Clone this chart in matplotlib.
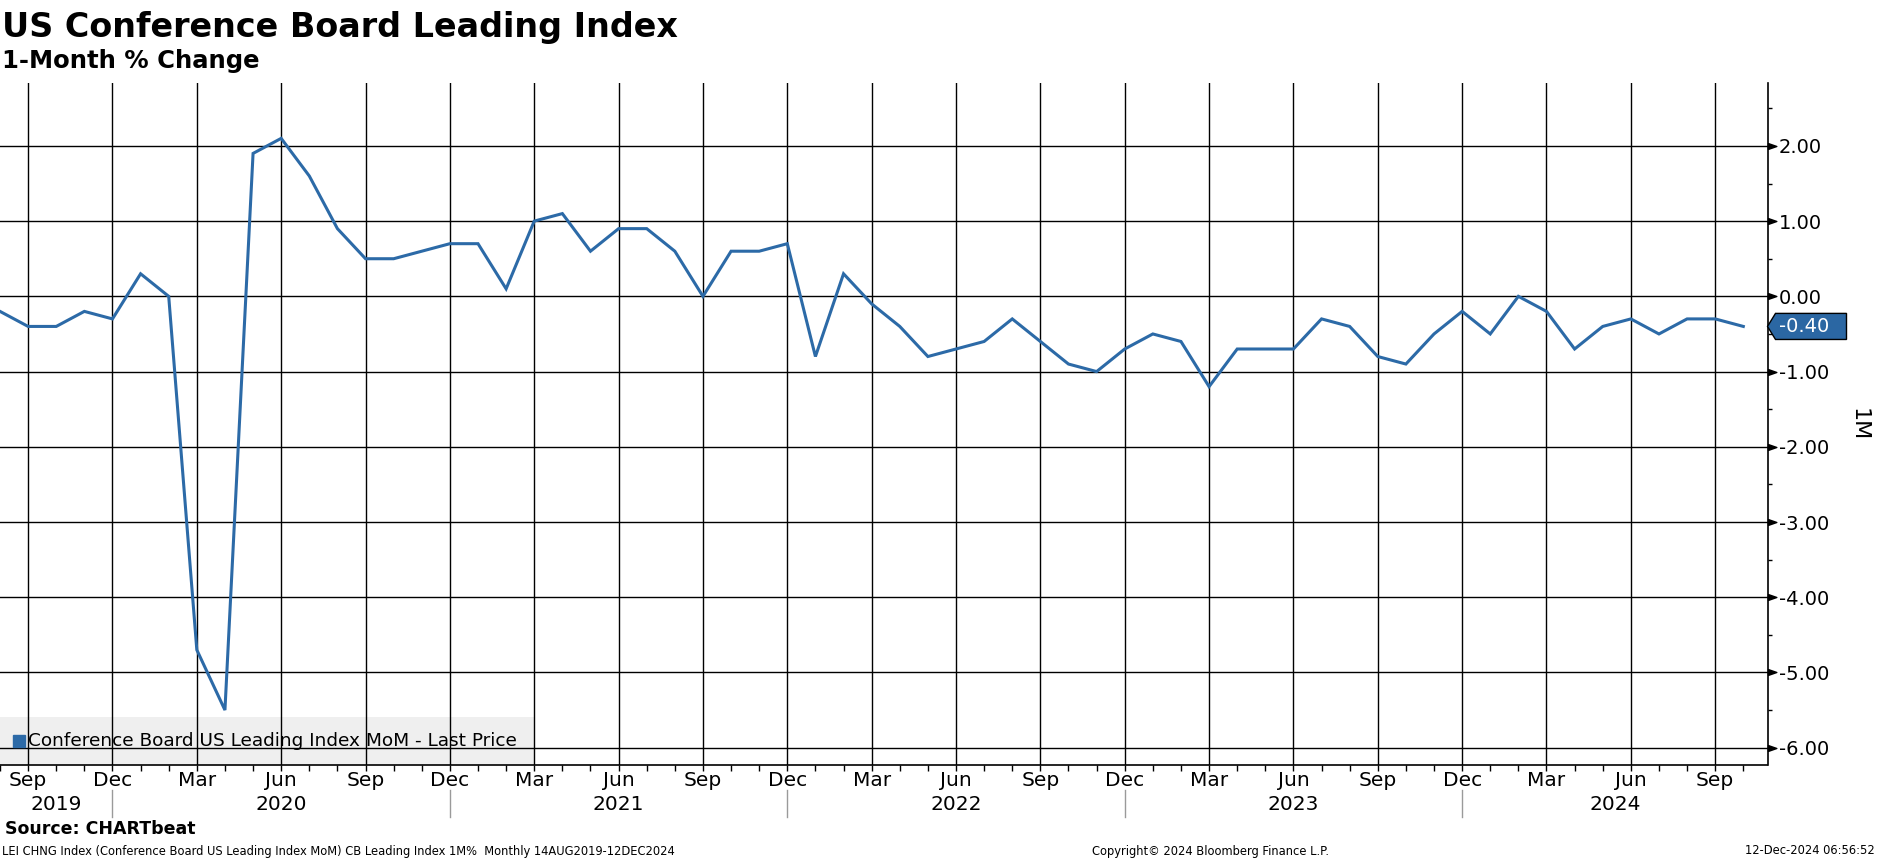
import matplotlib
matplotlib.use("Agg")
import matplotlib.pyplot as plt
import matplotlib.transforms as mtransforms
from matplotlib.patches import Polygon, Rectangle
from matplotlib.path import Path
from matplotlib.ticker import MultipleLocator, FixedLocator

# ---------------- data (monthly, Aug 2019 - Oct 2024) ----------------
values = [
    -0.2, -0.4, -0.4, -0.2, -0.3,                                         # 2019 Aug-Dec
    0.3, 0.0, -4.7, -5.5, 1.9, 2.1, 1.6, 0.9, 0.5, 0.5, 0.6, 0.7,         # 2020
    0.7, 0.1, 1.0, 1.1, 0.6, 0.9, 0.9, 0.6, 0.0, 0.6, 0.6, 0.7,           # 2021
    -0.8, 0.3, -0.1, -0.4, -0.8, -0.7, -0.6, -0.3, -0.6, -0.9, -1.0, -0.7,  # 2022
    -0.5, -0.6, -1.2, -0.7, -0.7, -0.7, -0.3, -0.4, -0.8, -0.9, -0.5, -0.2,  # 2023
    -0.5, 0.0, -0.2, -0.7, -0.4, -0.3, -0.5, -0.3, -0.3, -0.4,            # 2024 Jan-Oct
]
quarter_names = ["Sep", "Dec", "Mar", "Jun"]
year_labels = ["2019", "2020", "2021", "2022", "2023", "2024"]
y_ticks = [-6, -5, -4, -3, -2, -1, 0, 1, 2]
last_price = -0.40

title = "US Conference Board Leading Index"
subtitle = "1-Month % Change"
legend_label = "Conference Board US Leading Index MoM - Last Price"
source = "Source: CHARTbeat"
footer_left = "LEI CHNG Index (Conference Board US Leading Index MoM) CB Leading Index 1M%  Monthly 14AUG2019-12DEC2024"
footer_mid = "Copyright\u00a9 2024 Bloomberg Finance L.P."
footer_right = "12-Dec-2024 06:56:52"

line_color = "#2c6aa7"
x = list(range(len(values)))   # month index, 0 = Aug 2019

# ---------------- figure ----------------
W, H = 1877, 859
fig = plt.figure(figsize=(W / 100, H / 100), dpi=100)
plt.rcParams["font.family"] = ["DejaVu Sans"]
ax = fig.add_axes([0.0, 1 - 765 / H, 1767.5 / W, (765 - 82.7) / H])

xmax = 62.86
ax.set_xlim(0, xmax)
ax.set_ylim(-6.23, 2.84)

# grid
for q in range(1, len(values), 3):
    ax.axvline(q, color="black", lw=1.0, zorder=1)
for v in y_ticks:
    ax.axhline(v, color="black", lw=1.0, zorder=1)

# legend box (behind grid, as in the reference)
ax.add_patch(Rectangle((0, 0), 534 / 1767, 48 / 682.3, transform=ax.transAxes,
                       facecolor="#efefef", edgecolor="none", zorder=0.5))
ax.plot([19 / 1767], [24 / 682.3], marker="s", ms=8.5, color=line_color,
        transform=ax.transAxes, zorder=3, clip_on=False)
ax.text(28 / 1767, 24 / 682.3, legend_label, transform=ax.transAxes,
        fontsize=13.3, va="center", ha="left", zorder=3)

# series
ax.plot(x, values, color=line_color, lw=2.2, zorder=4, solid_joinstyle="miter")

# spines
for s in ["left", "top"]:
    ax.spines[s].set_visible(False)
ax.spines["right"].set_linewidth(1.2)
ax.spines["bottom"].set_linewidth(1.2)

# y axis on the right
ax.yaxis.tick_right()
ax.yaxis.set_major_locator(FixedLocator(y_ticks))
ax.yaxis.set_minor_locator(MultipleLocator(0.5))
ax.set_yticklabels([f"{v:.2f}" for v in y_ticks])
ax.tick_params(axis="y", which="major", length=0, pad=8, labelsize=14)
ax.tick_params(axis="y", which="minor", length=3, width=1, direction="out")

# triangle markers for major y ticks
tri = Path([(0, -0.35), (0, 0.35), (1, 0), (0, -0.35)],
           [Path.MOVETO, Path.LINETO, Path.LINETO, Path.CLOSEPOLY])
ax.plot([1.0] * len(y_ticks), y_ticks, ls="", marker=tri, ms=12, color="black",
        transform=ax.get_yaxis_transform(), clip_on=False, zorder=5)

# x axis: monthly minor ticks, labels drawn by hand
ax.xaxis.set_major_locator(FixedLocator([]))
ax.xaxis.set_minor_locator(FixedLocator(x))
ax.tick_params(axis="x", which="minor", length=4, width=1, direction="out")

bt = mtransforms.blended_transform_factory(ax.transData, fig.transFigure)
for i, q in enumerate(range(1, len(values), 3)):
    fig.text(q, 1 - 780 / H, quarter_names[i % 4], transform=bt,
             ha="center", va="center", fontsize=14.5)

# year labels and separators (separators on the Dec lines)
seps = [4, 16, 28, 40, 52]
bounds = [0] + seps + [xmax]
for i, yl in enumerate(year_labels):
    c = (bounds[i] + bounds[i + 1]) / 2
    fig.text(c, 1 - 804 / H, yl, transform=bt, ha="center", va="center", fontsize=14.5)
for s in seps:
    fig.add_artist(plt.Line2D([s, s], [1 - 790 / H, 1 - 817 / H], transform=bt,
                              color="#9a9a9a", lw=1))

# last price tag
y0 = last_price
hh = 13 / 75
aw = 1 / 1767.5
tag = Polygon([(1.0, y0), (1.0 + 8 * aw, y0 + hh), (1.0 + 79 * aw, y0 + hh),
               (1.0 + 79 * aw, y0 - hh), (1.0 + 8 * aw, y0 - hh)],
              closed=True, transform=ax.get_yaxis_transform(), clip_on=False,
              facecolor="#2b67a3", edgecolor="black", lw=1, zorder=6)
ax.add_patch(tag)
ax.text(1.0 + 11 * aw, y0, f"{last_price:.2f}", transform=ax.get_yaxis_transform(),
        color="white", fontsize=14, va="center", ha="left", zorder=7)

fig.text(1859 / W, 1 - 425 / H, "1M", rotation=270, fontsize=16, ha="center", va="center")

# titles
fig.text(2 / W, 1 - 37 / H, title, fontsize=24, fontweight="bold", va="baseline", ha="left")
fig.text(2 / W, 1 - 68 / H, subtitle, fontsize=17.5, fontweight="bold", va="baseline", ha="left")

# footer
fig.text(5 / W, 1 - 829 / H, source, fontsize=12.5, fontweight="bold", va="center", ha="left")
fig.text(2 / W, 1 - 851 / H, footer_left, fontsize=8.3, va="center", ha="left")
fig.text(1092 / W, 1 - 851 / H, footer_mid, fontsize=8.3, va="center", ha="left")
fig.text(1875 / W, 1 - 851 / H, footer_right, fontsize=8.3, va="center", ha="right")

fig.savefig("out.png", dpi=100)
